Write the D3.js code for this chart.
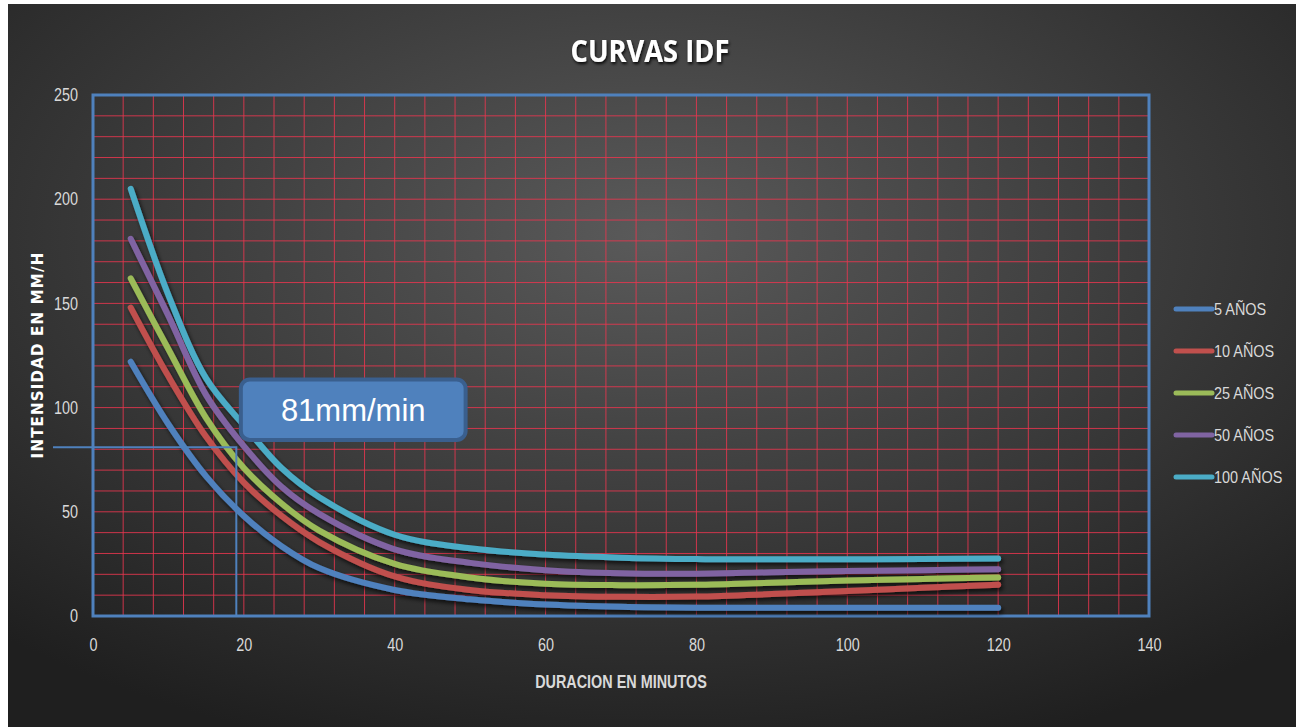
<!DOCTYPE html>
<html>
<head>
<meta charset="utf-8">
<script src="https://cdn.jsdelivr.net/npm/d3@7"></script>
<style>
    body { margin: 0; background: #ffffff; }
    svg { display: block; }
</style>
</head>
<body>
<svg id="chart" width="1296" height="727"></svg>
<script>
// durations (min) and intensities (mm/h)
const durations = [5, 10, 15, 20, 25, 30, 40, 50, 60, 70, 80, 90, 100, 110, 120];
const anios5   = [122, 92, 67, 48, 33.5, 23, 12.5, 8, 5.5, 4.4, 4, 4, 4, 4, 4];
const anios10  = [148, 115, 86, 64, 48, 35.5, 19, 12.5, 10, 9.2, 9.3, 10.5, 12, 13.5, 15];
const anios25  = [162, 128, 95, 71, 54, 41, 25, 18.5, 15.5, 14.8, 15, 16, 17, 17.8, 18.5];
const anios50  = [181, 144, 106, 81.5, 62, 49, 32, 25.5, 22, 20.5, 20.3, 21, 21.6, 22, 22.4];
const anios100 = [205, 154, 114, 91.5, 71, 57, 39, 32.5, 29.5, 28, 27.3, 27.2, 27.2, 27.4, 27.6];

const seriesNames = ['5 AÑOS', '10 AÑOS', '25 AÑOS', '50 AÑOS', '100 AÑOS'];
const seriesValues = [anios5, anios10, anios25, anios50, anios100];
const seriesColors = ['#4f81bd', '#c0504d', '#9bbb59', '#8064a2', '#4bacc6'];

const xTicks = [0, 20, 40, 60, 80, 100, 120, 140];
const yTicks = [0, 50, 100, 150, 200, 250];

// reading marked on the chart
const markDuration = 19;
const markIntensity = 81;
const markLabel = '81mm/min';

const sans = '"Liberation Sans", Arial, sans-serif';

const svg = d3.select('#chart');
const W = 1296, H = 727;
const plot = {left: 93, right: 1149, top: 95, bottom: 616};

// squeeze text horizontally (no condensed font installed)
function narrow(sel, f) {
    sel.each(function() {
        let len = this.getComputedTextLength();
        d3.select(this)
            .attr('textLength', len * f)
            .attr('lengthAdjust', 'spacingAndGlyphs');
    });
}

let defs = svg.append('defs');

let bg = defs.append('radialGradient')
    .attr('id', 'bg')
    .attr('cx', 0.5).attr('cy', 0.32).attr('r', 0.75);
bg.append('stop').attr('offset', '0%').attr('stop-color', '#5a5a5a');
bg.append('stop').attr('offset', '100%').attr('stop-color', '#1f1f1f');

defs.append('filter').attr('id', 'lineShadow')
    .attr('x', '-10%').attr('y', '-10%').attr('width', '120%').attr('height', '130%')
    .append('feDropShadow')
    .attr('dx', 2).attr('dy', 3).attr('stdDeviation', 2)
    .attr('flood-color', '#000').attr('flood-opacity', 0.7);

defs.append('filter').attr('id', 'titleShadow')
    .append('feDropShadow')
    .attr('dx', 1).attr('dy', 2).attr('stdDeviation', 1.5)
    .attr('flood-color', '#000').attr('flood-opacity', 0.9);

// background (thin white margin at top and left like the screenshot)
svg.append('rect').attr('width', W).attr('height', H).attr('fill', '#ffffff');
svg.append('rect')
    .attr('x', 8).attr('y', 4)
    .attr('width', W - 8).attr('height', H - 4)
    .attr('fill', 'url(#bg)');

let x = d3.scaleLinear().domain([0, 140]).range([plot.left, plot.right]);
let y = d3.scaleLinear().domain([0, 250]).range([plot.bottom, plot.top]);

// red grid
let grid = svg.append('g').attr('class', 'grid');
grid.selectAll('line.v')
    .data(d3.range(4, 140, 4))
    .enter().append('line')
    .attr('class', 'v')
    .attr('x1', d => x(d)).attr('x2', d => x(d))
    .attr('y1', plot.top).attr('y2', plot.bottom)
    .attr('stroke', '#e8364f').attr('stroke-width', 1).attr('opacity', 0.85);
grid.selectAll('line.h')
    .data(d3.range(10, 250, 10))
    .enter().append('line')
    .attr('class', 'h')
    .attr('x1', plot.left).attr('x2', plot.right)
    .attr('y1', d => y(d)).attr('y2', d => y(d))
    .attr('stroke', '#e8364f').attr('stroke-width', 1).attr('opacity', 0.85);

// plot frame
svg.append('rect')
    .attr('x', plot.left).attr('y', plot.top)
    .attr('width', plot.right - plot.left).attr('height', plot.bottom - plot.top)
    .attr('fill', 'none')
    .attr('stroke', '#4f81bd').attr('stroke-width', 3);

// axes
let xAxis = svg.append('g')
    .attr('transform', 'translate(0,' + plot.bottom + ')')
    .call(d3.axisBottom(x).tickValues(xTicks).tickSize(0).tickPadding(22));
let yAxis = svg.append('g')
    .attr('transform', 'translate(' + plot.left + ',0)')
    .call(d3.axisLeft(y).tickValues(yTicks).tickSize(0).tickPadding(15));
[xAxis, yAxis].forEach(function(a) {
    a.select('.domain').remove();
    a.selectAll('text')
        .attr('fill', '#d9d9d9')
        .style('font-family', sans)
        .style('font-size', '18px')
        .call(narrow, 0.8);
});

// curves
let line = d3.line()
    .x(function(d) { return x(d[0]); })
    .y(function(d) { return y(d[1]); })
    .curve(d3.curveCatmullRom.alpha(0.5));

let curves = svg.append('g').attr('filter', 'url(#lineShadow)');
seriesValues.forEach(function(vals, i) {
    let pts = durations.map(function(d, j) { return [d, vals[j]]; });
    curves.append('path')
        .attr('d', line(pts))
        .attr('fill', 'none')
        .attr('stroke', seriesColors[i])
        .attr('stroke-width', 6)
        .attr('stroke-linecap', 'round')
        .attr('stroke-linejoin', 'round');
});

// marker lines for the read value
svg.append('path')
    .attr('d', d3.line()([
        [x(-5.3), y(markIntensity)],
        [x(markDuration), y(markIntensity)],
        [x(markDuration), y(0)]
    ]))
    .attr('fill', 'none')
    .attr('stroke', '#4f81bd')
    .attr('stroke-width', 2);

// callout box
let bx0 = x(19.6), bx1 = x(49.4), by0 = y(113.5), by1 = y(84.5);
svg.append('rect')
    .attr('x', bx0).attr('y', by0)
    .attr('width', bx1 - bx0).attr('height', by1 - by0)
    .attr('rx', 9).attr('ry', 9)
    .attr('fill', '#4f81bd')
    .attr('stroke', '#3a5f8e').attr('stroke-width', 4);
svg.append('text')
    .attr('x', (bx0 + bx1) / 2).attr('y', (by0 + by1) / 2 + 11)
    .attr('text-anchor', 'middle')
    .attr('fill', '#ffffff')
    .style('font-family', sans)
    .style('font-size', '31px')
    .text(markLabel);

// title and axis titles
svg.append('text')
    .attr('x', 650).attr('y', 62)
    .attr('text-anchor', 'middle')
    .attr('fill', '#ffffff')
    .attr('filter', 'url(#titleShadow)')
    .style('font-family', '"Open Sans", sans-serif')
    .style('font-weight', 700)
    .style('font-size', '31px')
    .text('CURVAS IDF')
    .call(narrow, 0.88);

svg.append('text')
    .attr('x', 621).attr('y', 688)
    .attr('text-anchor', 'middle')
    .attr('fill', '#d9d9d9')
    .style('font-family', sans)
    .style('font-weight', 700)
    .style('font-size', '18px')
    .text('DURACION EN MINUTOS')
    .call(narrow, 0.8);

svg.append('text')
    .attr('transform', 'translate(43,355) rotate(-90)')
    .attr('text-anchor', 'middle')
    .attr('fill', '#ffffff')
    .style('font-family', '"DejaVu Sans", Verdana, sans-serif')
    .style('font-weight', 700)
    .style('font-size', '15px')
    .style('letter-spacing', '1.2px')
    .text('INTENSIDAD EN MM/H');

// legend
let legend = svg.append('g').attr('transform', 'translate(1174,309)');
let items = legend.selectAll('g')
    .data(seriesNames)
    .enter().append('g')
    .attr('transform', function(d, i) { return 'translate(0,' + (i * 42) + ')'; });
items.append('line')
    .attr('x1', 2).attr('x2', 38)
    .attr('stroke', function(d, i) { return seriesColors[i]; })
    .attr('stroke-width', 5)
    .attr('stroke-linecap', 'round');
items.append('text')
    .attr('x', 40).attr('y', 6)
    .attr('fill', '#d9d9d9')
    .style('font-family', sans)
    .style('font-size', '17px')
    .text(function(d) { return d; })
    .call(narrow, 0.85);
</script>
</body>
</html>
